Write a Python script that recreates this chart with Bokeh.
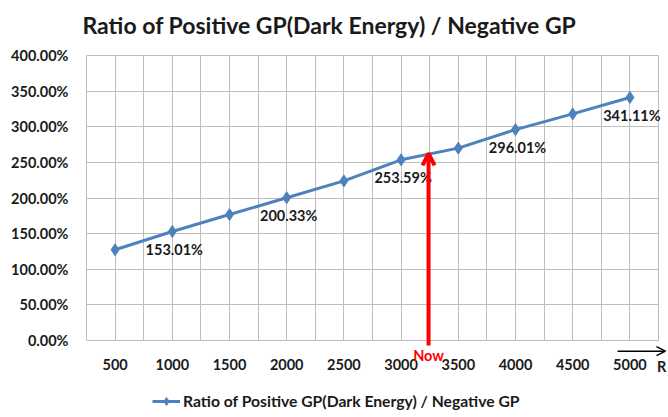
from bokeh.plotting import figure
from bokeh.models import (FixedTicker, PrintfTickFormatter, Range1d, Label, Arrow,
                          OpenHead, Legend, LegendItem, ColumnDataSource)
from bokeh.embed import file_html
from bokeh.resources import INLINE
from bokeh.core.properties import value

# ---- data ----
r_values = [500, 1000, 1500, 2000, 2500, 3000, 3500, 4000, 4500, 5000]
ratio_pct = [127.3, 153.01, 176.8, 200.33, 224.0, 253.59, 270.0, 296.01, 318.0, 341.11]
labeled_r = [1000, 2000, 3000, 4000, 5000]
labeled_pct = [153.01, 200.33, 253.59, 296.01, 341.11]
y_ticks = [0, 50, 100, 150, 200, 250, 300, 350, 400]
x_ticks = r_values
x_grid = [250 + 250 * i for i in range(21)]
now_r = 3240
now_pct = 262.5
title_text = "Ratio of Positive GP(Dark Energy) / Negative GP"
series_name = "Ratio of Positive GP(Dark Energy) / Negative GP"

FONT = "Lato"
BLUE = "#4F81BD"
GRID = "#BEBEBE"
TXT = "#1a1a1a"

W, H = 668, 417
LEFT, TOP = 86, 55
# plot box spans x 250..5250 over 572 px and y 0..400 over 285 px
px_x = 572 / 5000.0
px_y = 285 / 400.0
x_start = 250 - LEFT / px_x
x_end = 250 + (W - LEFT) / px_x
y_start = -(H - (TOP + 285)) / px_y
y_end = 400 + TOP / px_y

p = figure(width=W, height=H, output_backend="svg", toolbar_location=None,
           x_range=Range1d(x_start, x_end), y_range=Range1d(y_start, y_end),
           min_border_left=0, min_border_right=0, min_border_top=0,
           min_border_bottom=0)

p.outline_line_color = None
p.background_fill_color = "white"
p.border_fill_color = "white"

# title
p.add_layout(Label(x=250 - 4 / px_x, y=400 + 31 / px_y, text=title_text,
                   text_font=FONT, text_font_style="bold", text_font_size="23px",
                   text_color=TXT, text_align="left", text_baseline="middle"))

# grids
p.xgrid.ticker = FixedTicker(ticks=x_grid)
p.ygrid.ticker = FixedTicker(ticks=y_ticks)
p.xgrid.cross_bounds = (0, 400)
p.ygrid.cross_bounds = (250, 5250)
for g in (p.xgrid[0], p.ygrid[0]):
    g.grid_line_color = GRID
    g.grid_line_width = 1

# axes
p.xaxis.ticker = FixedTicker(ticks=x_ticks)
p.yaxis.ticker = FixedTicker(ticks=y_ticks)
p.yaxis.formatter = PrintfTickFormatter(format="%.2f%%")
p.xaxis.fixed_location = 0
p.yaxis.fixed_location = 250
for ax in (p.xaxis[0], p.yaxis[0]):
    ax.axis_line_color = None
    ax.major_tick_line_color = None
    ax.minor_tick_line_color = None
    ax.major_tick_out = 0
    ax.major_tick_in = 0
    ax.minor_tick_out = 0
    ax.minor_tick_in = 0
    ax.major_label_text_font = FONT
    ax.major_label_text_font_style = "bold"
    ax.major_label_text_font_size = "14.5px"
    ax.major_label_text_color = TXT
p.xaxis.major_label_standoff = 18
p.yaxis.major_label_standoff = 18

# series
src = ColumnDataSource(dict(r=r_values, v=ratio_pct))
line_r = p.line("r", "v", source=src, line_color=BLUE, line_width=3)
pts_r = p.scatter("r", "v", source=src, marker="diamond", size=12,
                  fill_color=BLUE, line_color=BLUE)

# data labels
lab_src = ColumnDataSource(dict(r=labeled_r, v=labeled_pct,
                                t=[f"{v:.2f}%" for v in labeled_pct]))
p.text("r", "v", text="t", source=lab_src, text_font=value(FONT),
       text_font_style="bold", text_font_size="14.5px", text_color=TXT,
       text_align="center", text_baseline="middle", y_offset=18, x_offset=2)

# "Now" arrow
p.add_layout(Arrow(x_start=now_r, y_start=-7, x_end=now_r, y_end=now_pct,
                   line_color="#FF0000", line_width=4,
                   end=OpenHead(size=12, line_color="#FF0000", line_width=4)))
p.add_layout(Label(x=now_r, y=-21, text="Now", text_font=FONT,
                   text_font_style="bold", text_font_size="14.5px",
                   text_color="#FF0000", text_align="center",
                   text_baseline="middle"))

# R axis arrow
p.add_layout(Arrow(x_start=4892, y_start=-15, x_end=5311, y_end=-15,
                   line_color="black", line_width=1.5,
                   end=OpenHead(size=9, line_color="black", line_width=1.5)))
p.add_layout(Label(x=5278, y=-37, text="R", text_font=FONT,
                   text_font_style="bold", text_font_size="14.5px",
                   text_color=TXT, text_align="center",
                   text_baseline="middle"))

# legend
legend = Legend(items=[LegendItem(label=series_name, renderers=[line_r, pts_r])],
                location=(152, 6), padding=0, margin=0, spacing=0,
                glyph_width=28, glyph_height=20, label_height=20,
                label_standoff=3, border_line_alpha=0,
                background_fill_alpha=0,
                label_text_font=FONT, label_text_font_style="bold",
                label_text_font_size="15.7px", label_text_color=TXT)
p.add_layout(legend, "center")

open("out.html", "w").write(file_html(p, INLINE))
